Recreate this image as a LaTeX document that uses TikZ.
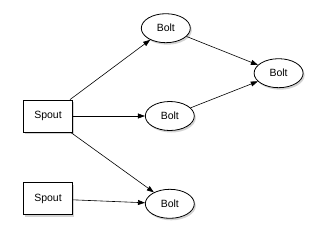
\documentclass[tikz,border=0pt]{standalone}
\usepackage{fontspec}
\setmainfont{Liberation Sans}
\usepackage{tikz}
\usetikzlibrary{shapes.geometric,arrows.meta,positioning,shadows}

\begin{document}
\begin{tikzpicture}[
  x=1pt,y=-1pt,
  node distance=72pt,
  spoutbox/.style={draw,thick,fill=white,minimum width=49pt,minimum height=32pt,
    inner sep=0pt,font=\fontsize{10.5}{12}\selectfont,
    drop shadow={opacity=0.35,shadow xshift=1.5pt,shadow yshift=-2pt}},
  bolt/.style={draw,thick,ellipse,fill=white,minimum width=49pt,minimum height=29pt,
    inner sep=0pt,font=\fontsize{10.5}{12}\selectfont,
    drop shadow={opacity=0.35,shadow xshift=1.5pt,shadow yshift=-2pt}},
  arrow/.style={-{Triangle[length=7pt,width=5pt]},semithick},
]
  \useasboundingbox (0,0) rectangle (320,246);
  \node[spoutbox] (spout1) at (48,116) {Spout};
  \node[spoutbox,below=50pt of spout1] (spout2) {Spout};
  \node[bolt,right=of spout1] (boltmid) {Bolt};
  \node[bolt,right=of spout2,yshift=-5pt] (boltlow) {Bolt};
  \node[bolt,above=58pt of boltmid,xshift=-4pt] (bolttop) {Bolt};
  \node[bolt,right=63pt of bolttop,yshift=-45pt] (boltsink) {Bolt};

  \draw[arrow] (spout1) -- (bolttop);
  \draw[arrow] (spout1) -- (boltmid);
  \draw[arrow] (spout1) -- (boltlow);
  \draw[arrow] (spout2) -- (boltlow);
  \draw[arrow] (bolttop) -- (boltsink);
  \draw[arrow] (boltmid) -- (boltsink);
\end{tikzpicture}
\end{document}
